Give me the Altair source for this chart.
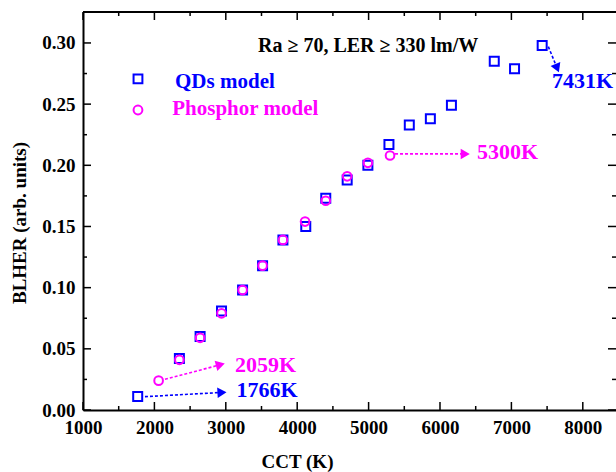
import math
import altair as alt
import pandas as pd

# ---------------- data ----------------
qd_cct = [1766, 2350, 2640, 2940, 3235, 3515, 3800, 4120, 4400, 4700, 4990, 5285,
          5570, 5865, 6160, 6760, 7044, 7431]
qd_blher = [0.011, 0.042, 0.060, 0.081, 0.098, 0.118, 0.139, 0.150, 0.173, 0.188,
            0.200, 0.217, 0.233, 0.238, 0.249, 0.285, 0.279, 0.298]
ph_cct = [2059, 2350, 2640, 2940, 3235, 3515, 3800, 4110, 4400, 4700, 4990, 5300]
ph_blher = [0.024, 0.041, 0.059, 0.079, 0.098, 0.118, 0.139, 0.154, 0.171, 0.191,
            0.202, 0.208]

x_major = [1000, 2000, 3000, 4000, 5000, 6000, 7000, 8000]
x_minor = [1500, 2500, 3500, 4500, 5500, 6500, 7500]
y_major = [0.0, 0.05, 0.10, 0.15, 0.20, 0.25, 0.30]
y_minor = [0.025, 0.075, 0.125, 0.175, 0.225, 0.275]

# annotation labels
ann_text = ["2059K", "1766K", "5300K", "7431K"]
ann_x = [3130, 3150, 6518, 7569]
ann_y = [0.0311, 0.0106, 0.2052, 0.2632]
ann_color = ["#FF00FF", "#0000FF", "#FF00FF", "#0000FF"]

# arrows (start -> tip)
arr_x0 = [2148, 1868, 5370, 7517]
arr_y0 = [0.0251, 0.0109, 0.2093, 0.2970]
arr_x1 = [2965, 2989, 6396, 7657]
arr_y1 = [0.0376, 0.0145, 0.2093, 0.2771]
arr_color = ["#FF00FF", "#0000FF", "#FF00FF", "#0000FF"]

# legend / condition text
cond_text = "Ra \u2265 70, LER \u2265 330 lm/W"
cond_x, cond_y = 3451, 0.293
leg_names = ["QDs model", "Phosphor model"]
leg_sym_x = [1770, 1770]
leg_sym_y = [0.2706, 0.2452]
leg_txt_x = [2289, 2250]
leg_txt_y = [0.2632, 0.2411]
leg_color = ["#0000FF", "#FF00FF"]
leg_shape = ["square", "circle"]

y_title = "BLHER (arb. units)"

# ---------------- layout ----------------
W, H = 533, 398
XMIN, XMAX = 1000, 8465
YMIN, YMAX = 0.0, 0.3253
FONT = "Liberation Serif"
BLUE, MAG = "#0000FF", "#FF00FF"

xs = alt.Scale(domain=[XMIN, XMAX], nice=False, zero=False)
ys = alt.Scale(domain=[YMIN, YMAX], nice=False, zero=False)

xaxis = alt.Axis(values=x_major, format="d", ticks=False, grid=False, domain=True,
                 domainColor="black", domainWidth=2, labelFont=FONT, labelFontSize=19,
                 labelFontWeight="bold", labelColor="black", labelPadding=8,
                 labelFlush=False, title="CCT (K)", titleFont=FONT, titleFontSize=19,
                 titleFontWeight="bold", titleColor="black", titleX=214, titleY=57,
                 titleBaseline="alphabetic")
yaxis = alt.Axis(values=y_major, format=".2f", ticks=False, grid=False, domain=True,
                 domainColor="black", domainWidth=2, labelFont=FONT, labelFontSize=19,
                 labelFontWeight="bold", labelColor="black", labelPadding=8,
                 labelFlush=False, title="")


def X(f):
    return alt.X(f, scale=xs, axis=xaxis)


def Y(f):
    return alt.Y(f, scale=ys, axis=yaxis)


qd = pd.DataFrame({"cct": qd_cct, "v": qd_blher})
ph = pd.DataFrame({"cct": ph_cct, "v": ph_blher})

squares = alt.Chart(qd).mark_point(shape="square", size=81, strokeWidth=2, color=BLUE,
                                   filled=False, opacity=1).encode(x=X("cct:Q"), y=Y("v:Q"))
circles = alt.Chart(ph).mark_point(shape="circle", size=75, strokeWidth=2, color=MAG,
                                   filled=False, opacity=1).encode(x=X("cct:Q"), y=Y("v:Q"))


# inward ticks
def xticks(vals, length, top):
    d = pd.DataFrame({"t": vals})
    y1, y2 = (0, length) if top else (H, H - length)
    return alt.Chart(d).mark_rule(color="black", strokeWidth=1.5).encode(
        x=X("t:Q"), y=alt.value(y1), y2=alt.value(y2))


def yticks(vals, length, right):
    d = pd.DataFrame({"t": vals})
    x1, x2 = (W, W - length) if right else (0, length)
    return alt.Chart(d).mark_rule(color="black", strokeWidth=1.5).encode(
        y=Y("t:Q"), x=alt.value(x1), x2=alt.value(x2))


tick_layers = [
    xticks(x_major, 8, False), xticks(x_minor, 4, False),
    xticks(x_major, 8, True), xticks(x_minor, 4, True),
    yticks(y_major, 8, False), yticks(y_minor, 4, False),
    yticks(y_major, 8, True), yticks(y_minor, 4, True),
]

top_line = alt.Chart(pd.DataFrame({"a": [0]})).mark_rule(color="black", strokeWidth=2).encode(
    x=alt.value(0), x2=alt.value(W), y=alt.value(0))

ytitle = alt.Chart(pd.DataFrame({"t": [y_title]})).mark_text(
    angle=270, align="center", baseline="alphabetic", font=FONT, fontWeight="bold",
    fontSize=19, color="black").encode(x=alt.value(-57), y=alt.value(211), text="t:N")

# arrows
pxx = W / (XMAX - XMIN)
pxy = H / (YMAX - YMIN)
HEAD = 110
h = math.sqrt(3) / 2 * math.sqrt(HEAD) / 2
rows = []
heads = []
for x0, y0, x1, y1, c in zip(arr_x0, arr_y0, arr_x1, arr_y1, arr_color):
    dx = (x1 - x0) * pxx
    dy = -(y1 - y0) * pxy
    L = math.hypot(dx, dy)
    ux, uy = dx / L, dy / L
    cx = x1 - ux * h / pxx
    cy = y1 + uy * h / pxy
    ang = math.degrees(math.atan2(ux, -uy)) % 360
    rows.append({"x": x0, "y": y0, "x2": cx, "y2": cy, "c": c})
    heads.append({"x": cx, "y": cy, "ang": ang, "c": c})

arr_df = pd.DataFrame(rows)
head_df = pd.DataFrame(heads)
arrow_lines = alt.Chart(arr_df).mark_rule(strokeWidth=1.6, strokeDash=[3, 2]).encode(
    x=X("x:Q"), y=Y("y:Q"), x2="x2:Q", y2="y2:Q", color=alt.Color("c:N", scale=None))
arrow_heads = alt.Chart(head_df).mark_point(shape="triangle", filled=True, size=HEAD,
                                            opacity=1, strokeWidth=0).encode(
    x=X("x:Q"), y=Y("y:Q"), angle=alt.Angle("ang:Q", scale=None),
    color=alt.Color("c:N", scale=None))

ann_df = pd.DataFrame({"t": ann_text, "x": ann_x, "y": ann_y, "c": ann_color})
ann = alt.Chart(ann_df).mark_text(align="left", baseline="alphabetic", font=FONT,
                                  fontWeight="bold", fontSize=22).encode(
    x=X("x:Q"), y=Y("y:Q"), text="t:N", color=alt.Color("c:N", scale=None))

cond = alt.Chart(pd.DataFrame({"t": [cond_text], "x": [cond_x], "y": [cond_y]})).mark_text(
    align="left", baseline="alphabetic", font=FONT, fontWeight="bold", fontSize=20,
    color="black").encode(x=X("x:Q"), y=Y("y:Q"), text="t:N")

leg_df = pd.DataFrame({"n": leg_names, "sx": leg_sym_x, "sy": leg_sym_y, "tx": leg_txt_x,
                       "ty": leg_txt_y, "c": leg_color, "s": leg_shape})
leg_sym = alt.Chart(leg_df).mark_point(size=78, strokeWidth=2, filled=False, opacity=1).encode(
    x=X("sx:Q"), y=Y("sy:Q"), color=alt.Color("c:N", scale=None),
    shape=alt.Shape("s:N", scale=None))
leg_txt = alt.Chart(leg_df).mark_text(align="left", baseline="alphabetic", font=FONT,
                                      fontWeight="bold", fontSize=21).encode(
    x=X("tx:Q"), y=Y("ty:Q"), text="n:N", color=alt.Color("c:N", scale=None))

chart = alt.layer(
    squares, circles, *tick_layers, top_line, ytitle, arrow_lines, arrow_heads, ann, cond,
    leg_sym, leg_txt,
).properties(
    width=W, height=H,
    autosize=alt.AutoSizeParams(type="none"),
    padding={"left": 83, "top": 12, "right": 0, "bottom": 62},
    background="white",
).configure_view(strokeWidth=0)

chart.save("out.html", embed_options={"renderer": "svg", "actions": False})
